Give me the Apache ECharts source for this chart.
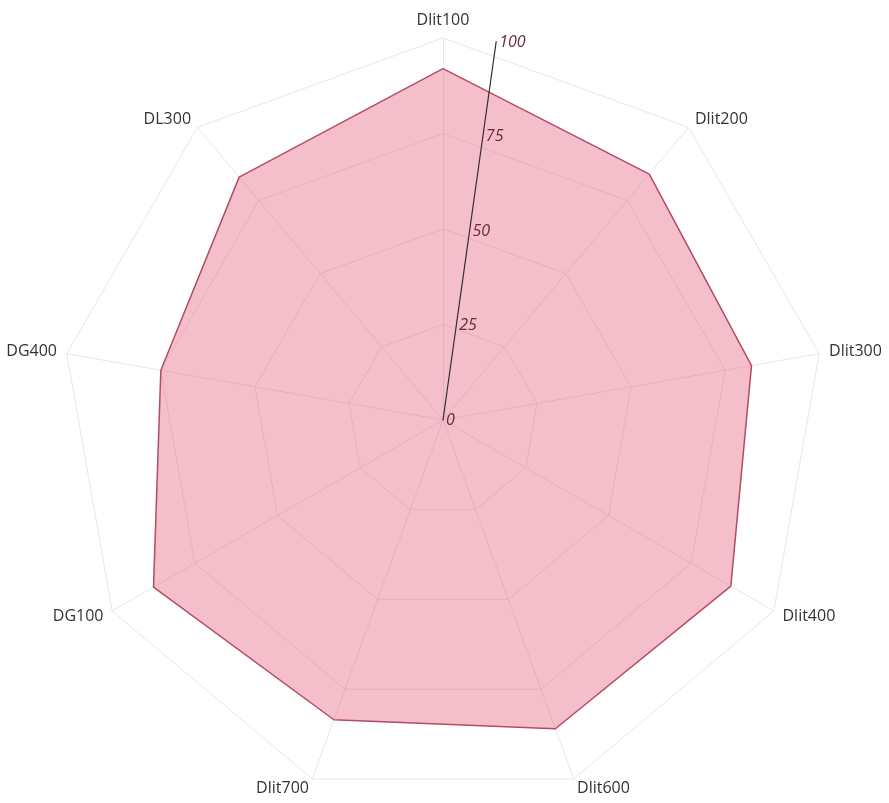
<!DOCTYPE html>
<html>
<head>
<meta charset="utf-8">
<script src="https://cdn.jsdelivr.net/npm/echarts@6/dist/echarts.min.js"></script>
<style>
html,body{margin:0;padding:0;background:#fff;}
#chart{width:889px;height:803px;}
</style>
</head>
<body>
<div id="chart"></div>
<script>
// Categories listed clockwise from the top
var categories = ['Dlit100','Dlit200','Dlit300','Dlit400','Dlit600','Dlit700','DG100','DG400','DL300'];
var values = [92, 84, 82, 87, 86, 83.5, 87.5, 75, 83];
var tickValues = [0, 25, 50, 75, 100];
var axisMax = 100;

// ECharts radar goes counter-clockwise: reorder so the picture runs clockwise
var order = [0];
for (var i = categories.length - 1; i >= 1; i--) order.push(i);
var indicators = order.map(function (k) { return { name: categories[k], max: axisMax, min: 0 }; });
var seriesValues = order.map(function (k) { return values[k]; });

var chart = echarts.init(document.getElementById('chart'));
chart.setOption({
  backgroundColor: '#ffffff',
  animation: false,
  radar: {
    center: [443, 420],
    radius: 382,
    startAngle: 90,
    splitNumber: 4,
    shape: 'polygon',
    indicator: indicators,
    axisName: { color: '#333', fontSize: 16, fontFamily: 'Open Sans' },
    nameGap: 10,
    axisLine: { lineStyle: { color: '#e8e8e8', width: 1 } },
    splitLine: { lineStyle: { color: '#e8e8e8', width: 1 } },
    splitArea: { show: false },
    axisLabel: { show: false },
    axisTick: { show: false }
  },
  polar: { center: [443, 420], radius: 382 },
  angleAxis: { show: false, startAngle: 82, min: 0, max: 360 },
  radiusAxis: {
    min: 0, max: axisMax, interval: 25, z: 10,
    axisLine: { show: true, lineStyle: { color: '#3a2a2e', width: 1.2 } },
    axisTick: { show: false },
    splitLine: { show: false },
    axisLabel: {
      show: true, margin: -3, align: 'left', color: '#6b2a3a', fontSize: 16, fontFamily: 'Open Sans', fontStyle: 'italic',
      formatter: function (v) { return tickValues.indexOf(v) >= 0 ? String(v) : ''; }
    }
  },
  series: [{
    type: 'radar',
    symbol: 'none',
    data: [{ value: seriesValues, name: 'values' }],
    lineStyle: { color: '#a84a62', width: 1.5 },
    areaStyle: { color: 'rgba(228,85,120,0.55)' }
  }]
});
</script>
</body>
</html>
